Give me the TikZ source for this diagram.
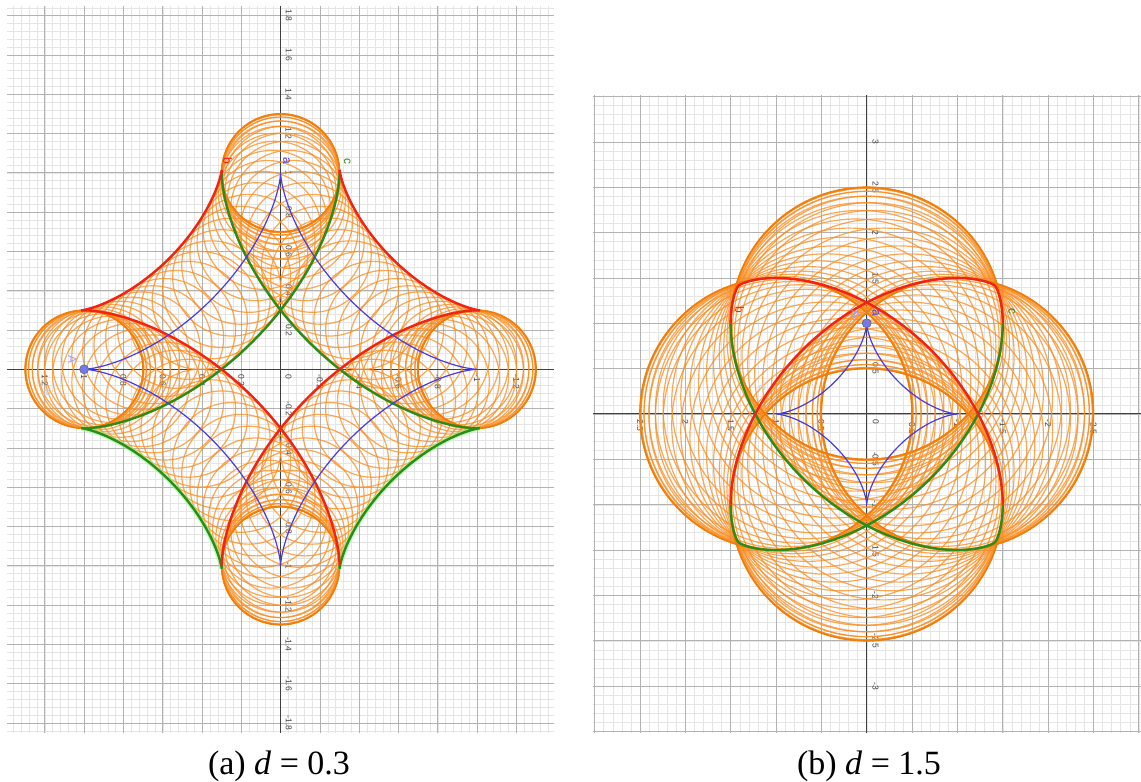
\documentclass[tikz,border=0pt]{standalone}
\usepackage{fontspec}
\setmainfont{Liberation Serif}
\setsansfont{Liberation Sans}
\usetikzlibrary{positioning}
\definecolor{ggorange}{RGB}{250,140,30}
\definecolor{ggdeep}{RGB}{240,125,10}
\definecolor{ggred}{RGB}{240,35,20}
\definecolor{gggreen}{RGB}{45,140,25}
\definecolor{ggblue}{RGB}{70,60,225}
\definecolor{ggpoint}{RGB}{115,120,235}

\begin{document}
\begin{tikzpicture}[x=1pt,y=1pt,
  declare function={ax(\t)=cos(\t)*cos(\t)*cos(\t); ay(\t)=sin(\t)*sin(\t)*sin(\t);},
  minorgrid/.style={black!10,line width=0.4pt},
  majorgrid/.style={black!30,line width=0.7pt},
  axisline/.style={black!75,line width=1pt},
  ticklab/.style={font=\sffamily\fontsize{8.5}{9}\selectfont,text=black!75,rotate=-90,inner sep=1pt},
  ptlab/.style={font=\sffamily\fontsize{12}{12}\selectfont,rotate=-90,inner sep=1pt},
  circ/.style={ggorange,line width=1.2pt,opacity=0.75},
  cuspcirc/.style={ggdeep,line width=1.6pt},
  astroid/.style={ggblue,line width=1.2pt},
  redline/.style={ggred,line width=2.4pt},
  greenline/.style={gggreen,line width=2.4pt},
  greenglow/.style={green!45!white,line width=5pt,opacity=0.6},
  ptmark/.style={circle,fill=ggpoint,draw=black!60,line width=0.6pt,minimum size=9pt,inner sep=0pt},
  caption/.style={font=\fontsize{34}{34}\selectfont}]
  \useasboundingbox (0,0) rectangle (1141,782);
  \fill[white] (0,0) rectangle (1141,782);

  % (a) d = 0.3
  \begin{scope}[shift={(280.6pt,412.7pt)},x=196.5pt,y=196.5pt]
    \def\dist{0.3}
    \draw[minorgrid,step=0.04] (-1.39,-1.85) grid (1.39,1.85);
    \draw[majorgrid,step=0.2] (-1.39,-1.85) grid (1.39,1.85);
    \draw[axisline] (-1.39,0) -- (1.39,0);
    \draw[axisline] (0,-1.85) -- (0,1.85);
    \foreach \l in {1.8,1.6,1.4,1.2,1,0.8,0.6,0.4,0.2,-0.2,-0.4,-0.6,-0.8,-1,-1.2,-1.4,-1.6,-1.8}
      \node[ticklab,anchor=south] at (0.02,\l) {\l};
    \foreach \v/\l in {-1.2/1.2,-1/1,-0.8/0.8,-0.6/0.6,-0.4/0.4,-0.2/0.2,0.2/-0.2,0.4/-0.4,0.6/-0.6,0.8/-0.8,1/-1,1.2/-1.2}
      \node[ticklab,anchor=west] at (\v,-0.02) {\l};
    \node[ticklab,anchor=west] (zeroa) at (0.04,-0.02) {0};
    \foreach \t in {0,3,...,357}
      \draw[circ] ({ax(\t)},{ay(\t)}) circle (\dist);
    \foreach \t in {0,90,180,270}
      \draw[cuspcirc] ({ax(\t)},{ay(\t)}) circle (\dist);
    \draw[greenglow] plot[domain=180:270,samples=91] ({ax(\x)+\dist*sin(\x)},{ay(\x)+\dist*cos(\x)});
    \draw[greenglow] plot[domain=-90:0,samples=91] ({ax(\x)-\dist*sin(\x)},{ay(\x)-\dist*cos(\x)});
    \draw[greenline] plot[domain=90:270,samples=181] ({ax(\x)+\dist*sin(\x)},{ay(\x)+\dist*cos(\x)});
    \draw[greenline] plot[domain=-90:90,samples=181] ({ax(\x)-\dist*sin(\x)},{ay(\x)-\dist*cos(\x)});
    \draw[redline] plot[domain=-90:90,samples=181] ({ax(\x)+\dist*sin(\x)},{ay(\x)+\dist*cos(\x)});
    \draw[redline] plot[domain=90:270,samples=181] ({ax(\x)-\dist*sin(\x)},{ay(\x)-\dist*cos(\x)});
    \draw[astroid] plot[domain=0:360,samples=361] ({ax(\x)},{ay(\x)});
    \node[ptmark] (ptA) at (-1,0) {};
    \node[ptlab,text=ggpoint!70] (labA) at (-1.06,0.05) {A};
    \node[ptlab,text=ggblue] (laba) at (0.03,1.06) {a};
    \node[ptlab,text=ggred] (labb) at (-0.27,1.06) {b};
    \node[ptlab,text=gggreen] (labc) at (0.34,1.06) {c};
    \node[ptlab,text=black!20] (labe) at (-1.19,-0.12) {e};
  \end{scope}

  % (b) d = 1.5
  \begin{scope}[shift={(866.7pt,368pt)},x=90.7pt,y=90.7pt]
    \def\dist{1.5}
    \draw[minorgrid,step=0.1] (-3.02,-3.52) grid (3.02,3.52);
    \draw[majorgrid,step=0.5] (-3.02,-3.52) grid (3.02,3.52);
    \draw[axisline] (-3.02,0) -- (3.02,0);
    \draw[axisline] (0,-3.52) -- (0,3.52);
    \foreach \l in {3,2.5,2,1.5,0.5,-0.5,-1,-1.5,-2,-2.5,-3}
      \node[ticklab,anchor=south] at (0.05,\l) {\l};
    \foreach \v/\l in {-2.5/2.5,-2/2,-1.5/1.5,-1/1,-0.5/0.5,0.5/-0.5,1/-1,1.5/-1.5,2/-2,2.5/-2.5}
      \node[ticklab,anchor=west] at (\v,-0.05) {\l};
    \node[ticklab,anchor=west] (zerob) at (0.1,-0.05) {0};
    \foreach \t in {0,5,...,355}
      \draw[circ] ({ax(\t)},{ay(\t)}) circle (\dist);
    \foreach \t in {0,90,180,270}
      \draw[cuspcirc] ({ax(\t)},{ay(\t)}) circle (\dist);
    \draw[greenline] plot[domain=90:270,samples=181] ({ax(\x)+\dist*sin(\x)},{ay(\x)+\dist*cos(\x)});
    \draw[greenline] plot[domain=-90:90,samples=181] ({ax(\x)-\dist*sin(\x)},{ay(\x)-\dist*cos(\x)});
    \draw[redline] plot[domain=-90:90,samples=181] ({ax(\x)+\dist*sin(\x)},{ay(\x)+\dist*cos(\x)});
    \draw[redline] plot[domain=90:270,samples=181] ({ax(\x)-\dist*sin(\x)},{ay(\x)-\dist*cos(\x)});
    \draw[astroid] plot[domain=0:360,samples=361] ({ax(\x)},{ay(\x)});
    \node[ptmark] (ptB) at (0,1) {};
    \node[ptlab,text=ggpoint!70] (labAb) at (-0.12,1.1) {A};
    \node[ptlab,text=ggblue] (labab) at (0.1,1.12) {a};
    \node[ptlab,text=ggred] (labbb) at (-1.4,1.15) {b};
    \node[ptlab,text=gggreen] (labcb) at (1.6,1.13) {c};
    \node[ptlab,text=black!20] (labeb) at (-1.15,0.29) {e};
  \end{scope}

  \node[caption] (capa) at (279,16) {(a) \textit{d} = 0.3};
  \node[caption] (capb) at (869,16) {(b) \textit{d} = 1.5};
\end{tikzpicture}
\end{document}
